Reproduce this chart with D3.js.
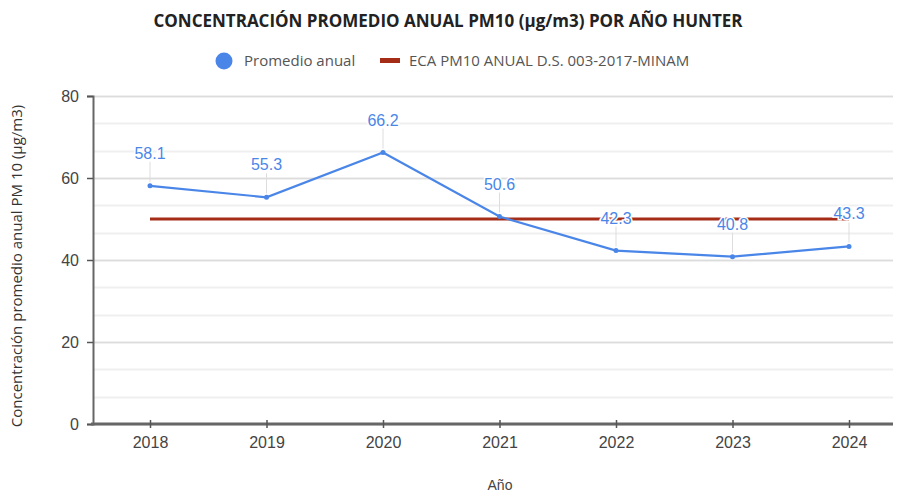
<!DOCTYPE html>
<html>
<head>
<meta charset="utf-8">
<script src="https://cdn.jsdelivr.net/npm/d3@7"></script>
<style>
    body { margin: 0; background: #fff; }
    svg text { font-family: "Open Sans", "Liberation Sans", sans-serif; }
    .tick-label { font-family: "Liberation Sans", Arial, sans-serif; font-size: 16px; fill: #444; }
    .val-label { font-family: "Liberation Sans", Arial, sans-serif; font-size: 16px; fill: #4a86e8; }
</style>
</head>
<body>
<div id="chart"></div>
<script>
var years = ['2018', '2019', '2020', '2021', '2022', '2023', '2024'];
var promedio = [58.1, 55.3, 66.2, 50.6, 42.3, 40.8, 43.3];
var eca = [50, 50, 50, 50, 50, 50, 50];
var yTicks = [0, 20, 40, 60, 80];

var width = 897,
    height = 495;

var svg = d3.select('#chart')
    .append('svg')
    .attr('width', width)
    .attr('height', height);

var x = d3.scalePoint()
    .domain(years)
    .range([150, 849]);

var y = d3.scaleLinear()
    .domain([0, 80])
    .range([424, 96]);

// gridlines: major every 20, minor every 20/3
var minor = d3.range(0, 80.01, 20 / 3);
svg.append('g')
    .selectAll('line')
    .data(minor)
    .enter()
    .append('line')
    .attr('x1', 93)
    .attr('x2', 893)
    .attr('y1', function (d) { return Math.round(y(d)) + 0.5; })
    .attr('y2', function (d) { return Math.round(y(d)) + 0.5; })
    .attr('stroke', '#efefef')
    .attr('stroke-width', 2);

svg.append('g')
    .selectAll('line')
    .data(yTicks)
    .enter()
    .append('line')
    .attr('x1', 93)
    .attr('x2', 893)
    .attr('y1', function (d) { return Math.round(y(d)) + 0.5; })
    .attr('y2', function (d) { return Math.round(y(d)) + 0.5; })
    .attr('stroke', '#dcdcdc')
    .attr('stroke-width', 1.5);

// y axis
var yAxis = svg.append('g')
    .attr('transform', 'translate(93,0)')
    .call(d3.axisLeft(y).tickValues(yTicks).tickSize(6).tickPadding(8));
yAxis.select('.domain').attr('stroke', '#666').attr('stroke-width', 2);
yAxis.selectAll('.tick line').attr('stroke', '#555').attr('stroke-width', 1.5);
yAxis.selectAll('.tick text').attr('class', 'tick-label');

// x axis
var xAxis = svg.append('g')
    .attr('transform', 'translate(0,424)')
    .call(d3.axisBottom(x).tickSizeInner(4).tickSizeOuter(0).tickPadding(9));
xAxis.select('.domain').attr('d', 'M91,0H893').attr('stroke', '#666').attr('stroke-width', 3);
xAxis.selectAll('.tick line').attr('y1', -4).attr('stroke', '#555').attr('stroke-width', 1.5);
xAxis.selectAll('.tick text').attr('class', 'tick-label');

// ECA line
var lineGen = d3.line()
    .x(function (d, i) { return x(years[i]); })
    .y(function (d) { return y(d); });

svg.append('path')
    .datum(eca)
    .attr('d', lineGen)
    .attr('fill', 'none')
    .attr('stroke', '#a52d18')
    .attr('stroke-width', 3);

// promedio line
svg.append('path')
    .datum(promedio)
    .attr('d', lineGen)
    .attr('fill', 'none')
    .attr('stroke', '#4a86e8')
    .attr('stroke-width', 2.2);

svg.append('g')
    .selectAll('circle')
    .data(promedio)
    .enter()
    .append('circle')
    .attr('cx', function (d, i) { return x(years[i]); })
    .attr('cy', function (d) { return y(d); })
    .attr('r', 2.5)
    .attr('fill', '#4a86e8');

// value labels with leaders
var labels = svg.append('g')
    .selectAll('g')
    .data(promedio)
    .enter()
    .append('g');

labels.append('line')
    .attr('x1', function (d, i) { return x(years[i]); })
    .attr('x2', function (d, i) { return x(years[i]); })
    .attr('y1', function (d) { return y(d) - 24; })
    .attr('y2', function (d) { return y(d) - 4; })
    .attr('stroke', '#ddd')
    .attr('stroke-width', 1);

labels.append('text')
    .attr('class', 'val-label')
    .attr('x', function (d, i) { return x(years[i]); })
    .attr('y', function (d) { return y(d) - 27; })
    .attr('text-anchor', 'middle')
    .attr('stroke', '#fff')
    .attr('stroke-width', 3)
    .attr('paint-order', 'stroke')
    .text(function (d) { return d.toFixed(1); });

// title
svg.append('text')
    .attr('x', 448)
    .attr('y', 27)
    .attr('text-anchor', 'middle')
    .style('font-size', '17px')
    .style('font-weight', 'bold')
    .attr('fill', '#222')
    .text('CONCENTRACIÓN PROMEDIO ANUAL PM10 (µg/m3) POR AÑO HUNTER');

// legend
svg.append('circle')
    .attr('cx', 224)
    .attr('cy', 61)
    .attr('r', 8.5)
    .attr('fill', '#4a86e8');
svg.append('text')
    .attr('x', 244)
    .attr('y', 66)
    .style('font-size', '15px')
    .attr('fill', '#555')
    .text('Promedio anual');
svg.append('line')
    .attr('x1', 380)
    .attr('x2', 400)
    .attr('y1', 60.5)
    .attr('y2', 60.5)
    .attr('stroke', '#a52d18')
    .attr('stroke-width', 5);
svg.append('text')
    .attr('x', 409)
    .attr('y', 66)
    .style('font-size', '15px')
    .attr('fill', '#555')
    .text('ECA PM10 ANUAL D.S. 003-2017-MINAM');

// axis titles
svg.append('text')
    .attr('transform', 'translate(22,266) rotate(-90)')
    .attr('text-anchor', 'middle')
    .style('font-size', '15px')
    .attr('fill', '#333')
    .text('Concentración promedio anual PM 10 (µg/m3)');

svg.append('text')
    .attr('x', 500)
    .attr('y', 490)
    .attr('text-anchor', 'middle')
    .attr('class', 'tick-label')
    .style('font-size', '14px')
    .text('Año');
</script>
</body>
</html>
